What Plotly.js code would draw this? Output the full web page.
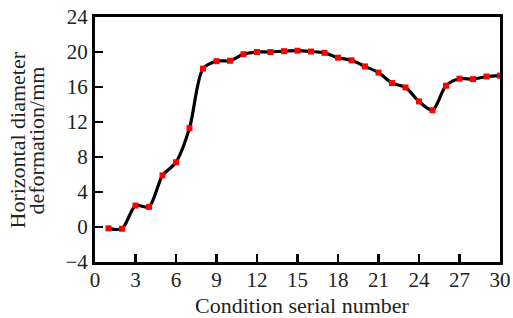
<!DOCTYPE html>
<html>
<head>
<meta charset="utf-8">
<script src="https://cdn.plot.ly/plotly-3.0.1.min.js"></script>
<style>html,body{margin:0;padding:0;background:#fff;}#chart{width:513px;height:318px;}</style>
</head>
<body>
<div id="chart"></div>
<script>
const conditionNumbers = [1,2,3,4,5,6,7,8,9,10,11,12,13,14,15,16,17,18,19,20,21,22,23,24,25,26,27,28,29,30];
const deformation = [-0.15,-0.2,2.45,2.3,5.9,7.4,11.3,18.1,18.95,19.0,19.75,20.0,20.0,20.1,20.15,20.05,19.9,19.35,19.05,18.35,17.65,16.45,15.95,14.35,13.35,16.15,16.95,16.9,17.2,17.3];
const xTickValues = [0,3,6,9,12,15,18,21,24,27,30];
const yTickValues = [-4,0,4,8,12,16,20,24];
const xTitle = 'Condition serial number';
const yTitleLine1 = 'Horizontal diameter';
const yTitleLine2 = 'deformation/mm';

const fontFamily = '"Liberation Serif", "Times New Roman", serif';
const textColor = '#222';

const trace = {
  x: conditionNumbers,
  y: deformation,
  type: 'scatter',
  mode: 'lines+markers',
  line: {color: '#000', width: 3.2, shape: 'spline', smoothing: 0.8},
  marker: {symbol: 'square', color: '#ff0000', size: 6},
  showlegend: false,
  cliponaxis: false
};

const axisCommon = {
  showline: true, linecolor: '#000', linewidth: 3, mirror: true,
  ticks: 'inside', ticklen: 8, tickwidth: 2.5, tickcolor: '#000',
  showgrid: false, zeroline: false,
  tickfont: {family: fontFamily, size: 21, color: textColor},
  tickmode: 'array'
};

const layout = {
  width: 513, height: 318,
  margin: {l: 95, r: 13, t: 17, b: 56},
  paper_bgcolor: '#fff', plot_bgcolor: '#fff',
  xaxis: Object.assign({}, axisCommon, {range: [0, 30], tickvals: xTickValues, ticktext: xTickValues.map(String), ticklabelstandoff: -3}),
  yaxis: Object.assign({}, axisCommon, {range: [-4, 24], tickvals: yTickValues, ticktext: yTickValues.map(v => v < 0 ? '\u2212' + Math.abs(v) : String(v))}),
  annotations: [
    {text: xTitle, xref: 'paper', yref: 'paper', x: 0.5, y: 0, xshift: 5, yshift: -43, xanchor: 'center', yanchor: 'middle', showarrow: false, font: {family: fontFamily, size: 22, color: textColor}},
    {text: yTitleLine1, xref: 'paper', yref: 'paper', x: 0, y: 0.5, xshift: -78, yshift: -1, xanchor: 'center', yanchor: 'middle', textangle: -90, showarrow: false, font: {family: fontFamily, size: 22, color: textColor}},
    {text: yTitleLine2, xref: 'paper', yref: 'paper', x: 0, y: 0.5, xshift: -59, yshift: -1, xanchor: 'center', yanchor: 'middle', textangle: -90, showarrow: false, font: {family: fontFamily, size: 22, color: textColor}}
  ]
};

Plotly.newPlot('chart', [trace], layout, {displayModeBar: false, staticPlot: true});
</script>
</body>
</html>
